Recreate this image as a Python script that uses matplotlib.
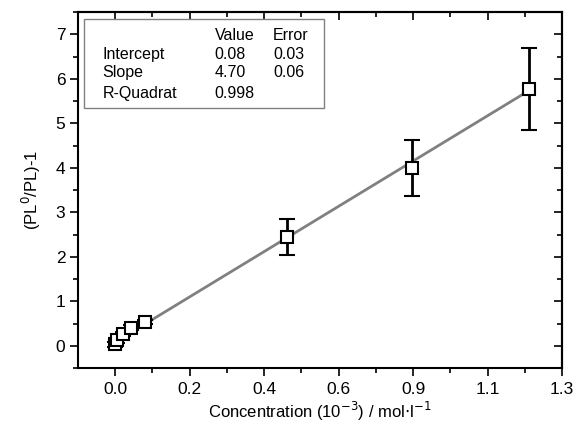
import numpy as np
import matplotlib
matplotlib.use("Agg")
import matplotlib.pyplot as plt
from matplotlib.patches import Rectangle
from matplotlib.ticker import FixedLocator, FixedFormatter

plt.rcParams['font.family'] = ['Liberation Sans', 'DejaVu Sans']

# Data
conc = [0.0, 0.0065, 0.024, 0.047, 0.087, 0.50, 0.864, 1.203]
ratio = [0.03, 0.12, 0.26, 0.41, 0.54, 2.45, 3.99, 5.77]
err = [0.05, 0.05, 0.05, 0.05, 0.05, 0.40, 0.63, 0.92]

# Fit results
intercept = 0.08
slope = 4.70

# Tick labels as printed on the chart
xtick_pos = [0.0, 1.3 / 6, 2 * 1.3 / 6, 3 * 1.3 / 6, 4 * 1.3 / 6, 5 * 1.3 / 6, 1.3]
xtick_labels = ["0.0", "0.2", "0.4", "0.6", "0.9", "1.1", "1.3"]

# Inset table
row_names = ["Intercept", "Slope", "R-Quadrat"]
row_values = ["0.08", "4.70", "0.998"]
row_errors = ["0.03", "0.06", ""]

fig = plt.figure(figsize=(5.76, 4.32), dpi=100)
ax = fig.add_axes([0.135, 0.148, 0.841, 0.824])

# fit line
xf = np.array([conc[0], conc[-1]])
ax.plot(xf, intercept + slope * xf, color="#808080", lw=2, zorder=2)

ax.errorbar(conc, ratio, yerr=err, fmt="s", ms=9, mfc="white", mec="black",
            mew=1.5, ecolor="black", elinewidth=2, capsize=5.5, capthick=2, zorder=3)

ax.set_xlim(-0.1083, 1.3)
ax.set_ylim(-0.5, 7.5)

ax.xaxis.set_major_locator(FixedLocator(xtick_pos))
ax.xaxis.set_major_formatter(FixedFormatter(xtick_labels))
minor_x = [p + 1.3 / 12 for p in xtick_pos[:-1]] + [-1.3 / 12]
ax.xaxis.set_minor_locator(FixedLocator(minor_x))
ax.set_yticks(range(0, 8))
ax.set_yticks(np.arange(-0.5, 7.6, 1.0), minor=True)

for s in ax.spines.values():
    s.set_linewidth(1.5)

ax.tick_params(which="both", labelsize=12.5, width=1.2, direction="out",
               top=False, right=False)
ax.tick_params(which="major", length=6)
ax.tick_params(which="minor", length=3.5)
ax.tick_params(axis="x", pad=4)
ax.tick_params(axis="y", pad=3)

# top and right ticks point inward
secx = ax.secondary_xaxis("top")
secx.set_xticks(xtick_pos)
secx.set_xticks(minor_x, minor=True)
secx.tick_params(which="both", direction="in", labeltop=False, width=1.2)
secx.tick_params(which="major", length=6)
secx.tick_params(which="minor", length=3.5)
secy = ax.secondary_yaxis("right")
secy.set_yticks(range(0, 8))
secy.set_yticks(np.arange(-0.5, 7.6, 1.0), minor=True)
secy.tick_params(which="both", direction="in", labelright=False, width=1.2)
secy.tick_params(which="major", length=6)
secy.tick_params(which="minor", length=3.5)
secx.spines["top"].set_linewidth(1.5)
secy.spines["right"].set_linewidth(1.5)

ax.set_xlabel("Concentration (10$^{-3}$) / mol$\\cdot$l$^{-1}$", fontsize=12, labelpad=2)
ax.set_ylabel("(PL$^{0}$/PL)-1", fontsize=12, labelpad=9)

# inset table
ax.add_patch(Rectangle((0.013, 0.7295), 0.495, 0.2525, transform=ax.transAxes,
                       fill=False, edgecolor="#808080", lw=1.0, zorder=5))
ty = [0.882, 0.829, 0.772]
fs = 11.5
ax.text(0.283, 0.935, "Value", transform=ax.transAxes, fontsize=fs, va="center")
ax.text(0.403, 0.935, "Error", transform=ax.transAxes, fontsize=fs, va="center")
for y, n, v, e in zip(ty, row_names, row_values, row_errors):
    ax.text(0.051, y, n, transform=ax.transAxes, fontsize=fs, va="center")
    ax.text(0.283, y, v, transform=ax.transAxes, fontsize=fs, va="center")
    ax.text(0.403, y, e, transform=ax.transAxes, fontsize=fs, va="center")

fig.savefig("out.png", dpi=100)
